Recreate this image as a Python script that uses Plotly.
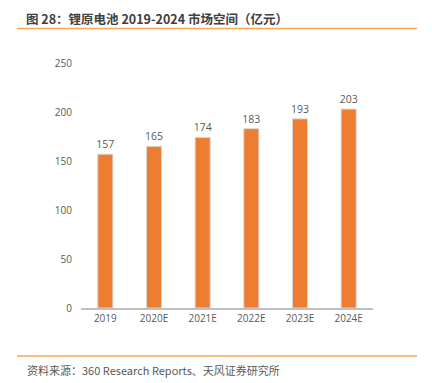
import plotly.graph_objects as go

categories = ["2019", "2020E", "2021E", "2022E", "2023E", "2024E"]
values = [157, 165, 174, 183, 193, 203]
y_ticks = [0, 50, 100, 150, 200, 250]

# page has an 8px body margin; work in page pixels and shift
OFF = 8
W, H = 432 - OFF, 383 - OFF
L, R, T, B = 81 - OFF, W - (373 - OFF), 63 - OFF, H - (308 - OFF)

fig = go.Figure()
fig.add_trace(go.Bar(
    x=categories, y=values,
    marker=dict(color="#ED7D31", line=dict(color="#D9D9D9", width=1)),
    text=[str(v) for v in values], textposition="outside", constraintext="none",
    textfont=dict(family="Open Sans, Noto Sans CJK SC", size=10.5, color="#595959"),
    cliponaxis=False,
))

fig.update_layout(
    width=W, height=H,
    margin=dict(l=L, r=R, t=T, b=B),
    paper_bgcolor="white", plot_bgcolor="white",
    bargap=0.69, showlegend=False,
    font=dict(family="Open Sans, Noto Sans CJK SC", color="#595959", size=10),
    xaxis=dict(showgrid=False, showline=True, linecolor="#BFBFBF", linewidth=1.5,
               ticks="", tickfont=dict(size=10, color="#595959")),
    yaxis=dict(range=[0, 250], tickvals=y_ticks, showgrid=False, showline=False,
               zeroline=False, ticks="", ticklabelstandoff=8,
               tickfont=dict(size=10, color="#595959")),
)

def px2x(px):
    return (px - OFF - L) / (W - L - R)

def py2y(py):
    return 1 - (py - OFF - T) / (H - T - B)

fig.add_annotation(
    text="<b>图 28：锂原电池 2019-2024 市场空间（亿元）</b>",
    xref="paper", yref="paper", x=px2x(25), y=py2y(8.2),
    xanchor="left", yanchor="top", showarrow=False, borderpad=0,
    font=dict(family="Noto Sans CJK SC", size=12.5, color="#404040"),
)
fig.add_annotation(
    text="资料来源：360 Research Reports、天风证券研究所",
    xref="paper", yref="paper", x=px2x(25), y=py2y(370),
    xanchor="left", yanchor="middle", showarrow=False,
    font=dict(family="Noto Sans CJK SC", size=11, color="#595959"),
)
for yy in (28.5, 356):
    fig.add_shape(type="line", xref="paper", yref="paper",
                  x0=px2x(17), x1=px2x(417), y0=py2y(yy), y1=py2y(yy),
                  line=dict(color="#F8A65A", width=1.5))

fig.write_html("out.html")
